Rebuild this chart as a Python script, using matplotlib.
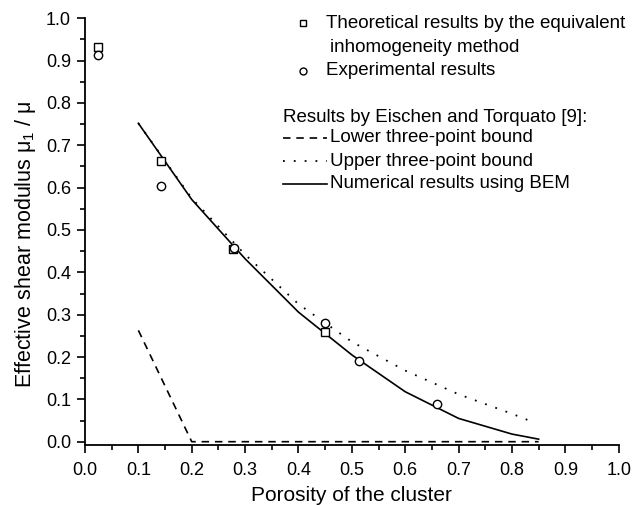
import matplotlib
matplotlib.use("Agg")
import matplotlib.pyplot as plt
from matplotlib.lines import Line2D
from matplotlib.ticker import MultipleLocator

plt.rcParams['font.family'] = ['Liberation Sans', 'DejaVu Sans']
plt.rcParams['mathtext.fontset'] = 'custom'
plt.rcParams['mathtext.rm'] = 'Liberation Sans'
plt.rcParams['mathtext.it'] = 'Liberation Sans'

# Data
theo_x = [0.025, 0.143, 0.278, 0.449]
theo_y = [0.932, 0.664, 0.455, 0.258]

exp_x = [0.025, 0.143, 0.280, 0.449, 0.514, 0.659]
exp_y = [0.913, 0.604, 0.458, 0.281, 0.191, 0.089]

bem_x = [0.10, 0.20, 0.30, 0.40, 0.50, 0.60, 0.70, 0.80, 0.85]
bem_y = [0.752, 0.572, 0.432, 0.306, 0.205, 0.118, 0.055, 0.018, 0.006]

upper_x = [0.10, 0.20, 0.30, 0.40, 0.50, 0.60, 0.70, 0.80, 0.84]
upper_y = [0.752, 0.575, 0.442, 0.325, 0.236, 0.168, 0.112, 0.066, 0.046]

lower_x = [0.10, 0.20, 0.85]
lower_y = [0.263, 0.0, 0.0]

xticks = [0.0, 0.1, 0.2, 0.3, 0.4, 0.5, 0.6, 0.7, 0.8, 0.9, 1.0]
yticks = [0.0, 0.1, 0.2, 0.3, 0.4, 0.5, 0.6, 0.7, 0.8, 0.9, 1.0]

fig = plt.figure(figsize=(6.33, 5.05), dpi=100)
ax = fig.add_axes([85/633, 1-445/505, (618.7-85)/633, (445-18.3)/505])

lw = 1.2
ax.plot(bem_x, bem_y, color='black', lw=lw, ls='-')
ax.plot(upper_x, upper_y, color='black', lw=1.3, ls=(0, (1, 5)))
ax.plot(lower_x, lower_y, color='black', lw=lw, ls=(0, (4.5, 3.5)))
ax.plot(theo_x, theo_y, ls='none', marker='s', ms=5.2, mfc='white', mec='black', mew=1.0)
ax.plot(exp_x, exp_y, ls='none', marker='o', ms=6, mfc='white', mec='black', mew=1.0)

ax.set_xlim(0.0, 1.0)
ax.set_ylim(-0.0078, 1.0)
ax.set_xticks(xticks)
ax.set_yticks(yticks)
ax.set_xticklabels([f"{v:.1f}" for v in xticks])
ax.set_yticklabels([f"{v:.1f}" for v in yticks])
ax.xaxis.set_minor_locator(MultipleLocator(0.05))
ax.yaxis.set_minor_locator(MultipleLocator(0.05))
ax.tick_params(which='major', direction='out', length=6, width=1.2, labelsize=13, pad=4, colors='black')
ax.tick_params(axis='x', which='major', pad=6.5)
ax.tick_params(which='minor', direction='out', length=3.5, width=1.2)
for s in ['top', 'right']:
    ax.spines[s].set_visible(False)
for s in ['left', 'bottom']:
    ax.spines[s].set_linewidth(1.3)

ax.set_xlabel('Porosity of the cluster', fontsize=15)
ax.set_ylabel(r'Effective shear modulus $\mu_1$ / $\mu$', fontsize=15.5)
ax.xaxis.set_label_coords(0.5, -0.097)
ax.yaxis.set_label_coords(-0.088, 0.47)

# Legend drawn manually in figure pixel coords
W, H = 633, 505
def fx(px):
    return px / W
def fy(py):
    return 1 - py / H

fs = 13.5
fig.add_artist(Line2D([fx(303.3)], [fy(23.3)], marker='s', ms=4.5, mfc='white', mec='black', mew=1.0, ls='none'))
fig.text(fx(326), fy(23.3), 'Theoretical results by the equivalent', fontsize=fs, va='center', ha='left')
fig.text(fx(330.5), fy(47.5), 'inhomogeneity method', fontsize=fs, va='center', ha='left')
fig.add_artist(Line2D([fx(303.3)], [fy(70.7)], marker='o', ms=5, mfc='white', mec='black', mew=1.0, ls='none'))
fig.text(fx(326), fy(70.7), 'Experimental results', fontsize=fs, va='center', ha='left')
fig.text(fx(283.3), fy(117), 'Results by Eischen and Torquato [9]:', fontsize=fs, va='center', ha='left')
fig.add_artist(Line2D([fx(283.3), fx(327)], [fy(138), fy(138)], color='black', lw=lw, ls=(0, (4.5, 3.5))))
fig.text(fx(330.5), fy(138), 'Lower three-point bound', fontsize=fs, va='center', ha='left')
fig.add_artist(Line2D([fx(283.3), fx(327)], [fy(161), fy(161)], color='black', lw=1.3, ls=(0, (1, 5))))
fig.text(fx(330.5), fy(161), 'Upper three-point bound', fontsize=fs, va='center', ha='left')
fig.add_artist(Line2D([fx(283.3), fx(327)], [fy(184), fy(184)], color='black', lw=lw, ls='-'))
fig.text(fx(330.5), fy(184), 'Numerical results using BEM', fontsize=fs, va='center', ha='left')

fig.savefig('out.png', dpi=100)
